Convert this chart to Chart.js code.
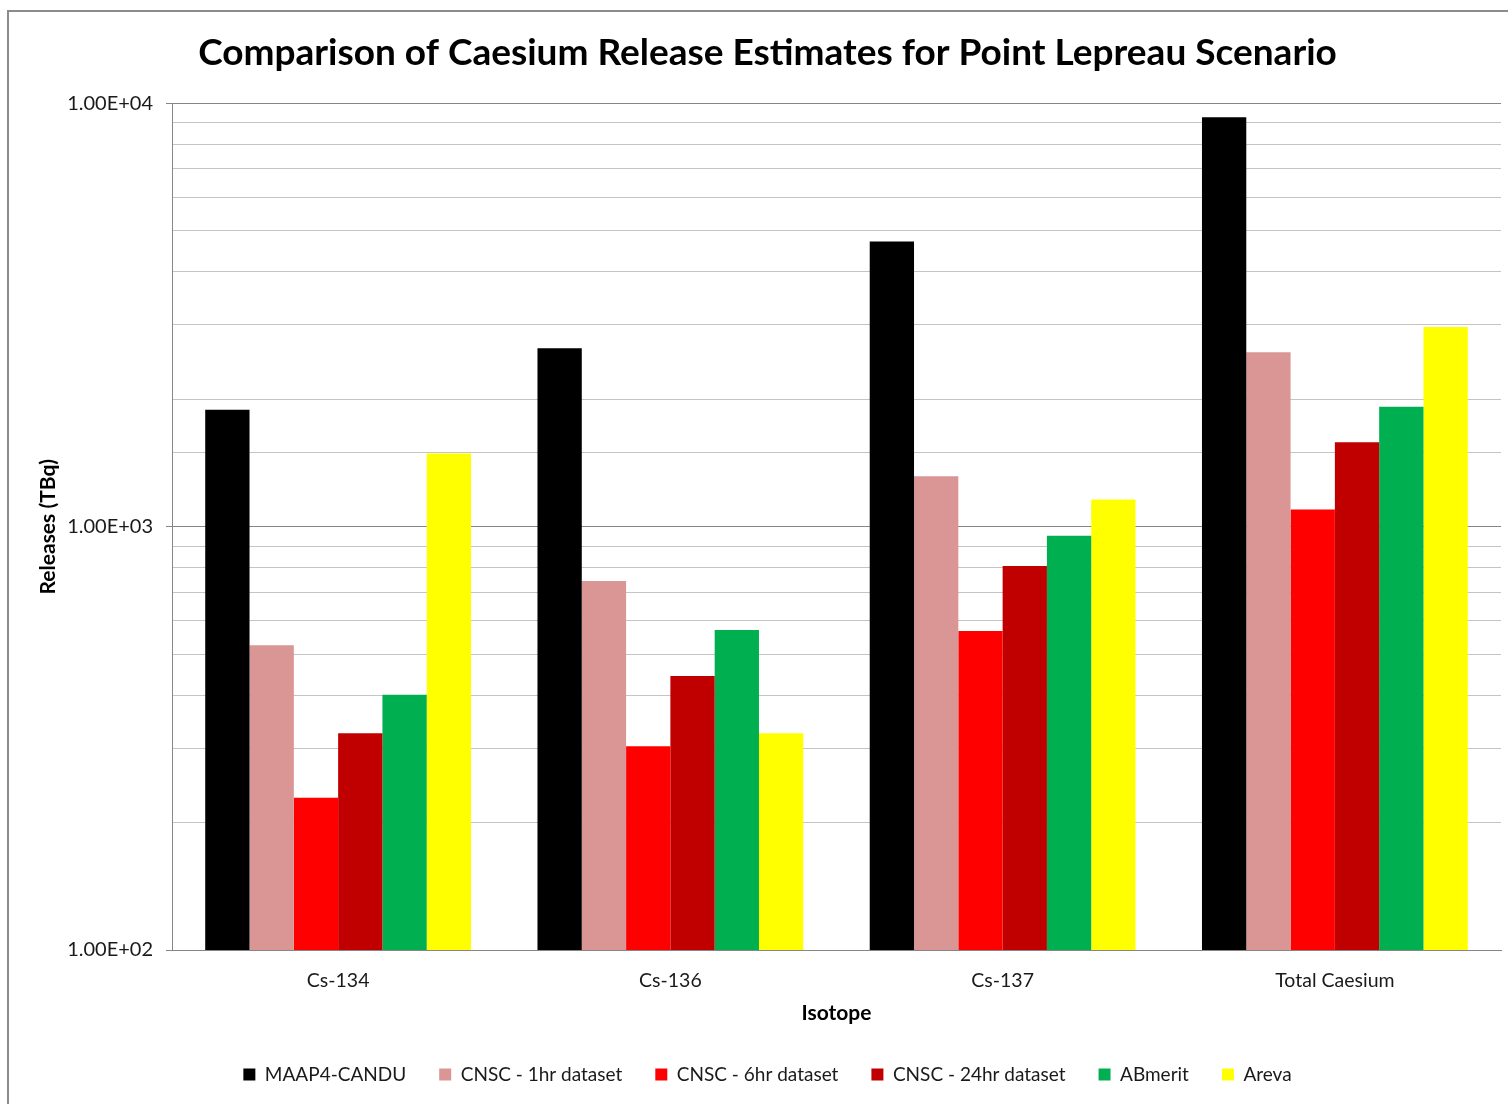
<!DOCTYPE html>
<html>
<head>
<meta charset="utf-8">
<title>Comparison of Caesium Release Estimates for Point Lepreau Scenario</title>
<script src="https://cdn.jsdelivr.net/npm/chart.js@4/dist/chart.umd.min.js"></script>
<style>
  html, body { margin: 0; padding: 0; background: #ffffff; overflow: hidden; }
  body { width: 1508px; height: 1104px; position: relative; }
  #frame {
    position: absolute; left: 7px; top: 10px; width: 1600px; height: 1200px;
    border: 2px solid #8c8c8c; box-sizing: border-box;
  }
  #wrap { position: absolute; left: 0; top: 0; width: 1532px; height: 1104px; }
</style>
</head>
<body>
<div id="frame"></div>
<div id="wrap"><canvas id="chart"></canvas></div>
<script>
// Isotope categories along the x axis
const categories = ['Cs-134', 'Cs-136', 'Cs-137', 'Total Caesium'];

// Release estimates (TBq) per source
const maap4Candu = [1888, 2639, 4719, 9268];
const cnsc1hr    = [525, 744, 1316, 2582];
const cnsc6hr    = [229, 303, 567, 1098];
const cnsc24hr   = [325, 444, 807, 1583];
const abmerit    = [401, 570, 952, 1920];
const areva      = [1489, 325, 1160, 2964];

// Labelled decades on the logarithmic y axis
const yTickLabels = ['1.00E+02', '1.00E+03', '1.00E+04'];
const yMin = 100;
const yMax = 10000;

const seriesNames = ['MAAP4-CANDU', 'CNSC - 1hr dataset', 'CNSC - 6hr dataset',
                     'CNSC - 24hr dataset', 'ABmerit', 'Areva'];
const seriesValues = [maap4Candu, cnsc1hr, cnsc6hr, cnsc24hr, abmerit, areva];
const seriesColors = ['#000000', '#D99694', '#FF0000', '#C00000', '#00B050', '#FFFF00'];

const FONT = 'Lato, "Open Sans", "DejaVu Sans", sans-serif';
const TEXT = '#1a1a1a';
const MAJOR_GRID = '#868686';
const MINOR_GRID = '#c4c4c4';

function isDecade(v) {
  const l = Math.log10(v);
  return Math.abs(l - Math.round(l)) < 1e-9;
}
function decadeLabel(v) {
  const e = Math.round(Math.log10(v));
  const idx = e - Math.round(Math.log10(yMin));
  return yTickLabels[idx] !== undefined ? yTickLabels[idx] : '';
}

const datasets = seriesNames.map((name, i) => ({
  label: name,
  data: seriesValues[i],
  backgroundColor: seriesColors[i],
  borderWidth: 0,
  categoryPercentage: 0.8,
  barPercentage: 1.0
}));

new Chart(document.getElementById('chart'), {
  type: 'bar',
  data: { labels: categories, datasets },
  options: {
    responsive: true,
    maintainAspectRatio: false,
    animation: false,
    layout: { padding: { left: 34, right: 31, top: 0, bottom: 10 } },
    plugins: {
      title: {
        display: true,
        text: 'Comparison of Caesium Release Estimates for Point Lepreau Scenario',
        color: '#000000',
        font: { family: FONT, size: 37, weight: 'bold' },
        padding: { top: 31, bottom: 28 }
      },
      legend: {
        position: 'bottom',
        labels: {
          boxWidth: 12,
          boxHeight: 12,
          padding: 33,
          color: TEXT,
          font: { family: FONT, size: 19 }
        }
      },
      tooltip: { enabled: false }
    },
    scales: {
      x: {
        afterFit: (scale) => { scale.height = 82; },
        grid: { display: false },
        border: { display: true, color: MAJOR_GRID, width: 1 },
        ticks: { color: TEXT, font: { family: FONT, size: 19.5 }, padding: 11 },
        title: {
          display: true,
          text: 'Isotope',
          color: '#000000',
          font: { family: FONT, size: 21, weight: 'bold' },
          padding: { top: 6, bottom: 6 }
        }
      },
      y: {
        type: 'logarithmic',
        min: yMin,
        max: yMax,
        afterFit: (scale) => { scale.width = 138; },
        border: { display: true, color: MAJOR_GRID, width: 1 },
        grid: {
          color: (ctx) => (ctx.tick && isDecade(ctx.tick.value)) ? MAJOR_GRID : MINOR_GRID,
          tickColor: (ctx) => (ctx.tick && isDecade(ctx.tick.value)) ? MAJOR_GRID : 'rgba(0,0,0,0)',
          tickLength: 6,
          lineWidth: 1
        },
        ticks: {
          autoSkip: false,
          color: TEXT,
          font: { family: FONT, size: 20 },
          padding: 13,
          callback: (v) => isDecade(v) ? decadeLabel(v) : ''
        },
        title: {
          display: true,
          text: 'Releases (TBq)',
          color: '#000000',
          font: { family: FONT, size: 21, weight: 'bold' },
          padding: { top: 2, bottom: 2 }
        }
      }
    }
  }
});
</script>
</body>
</html>
